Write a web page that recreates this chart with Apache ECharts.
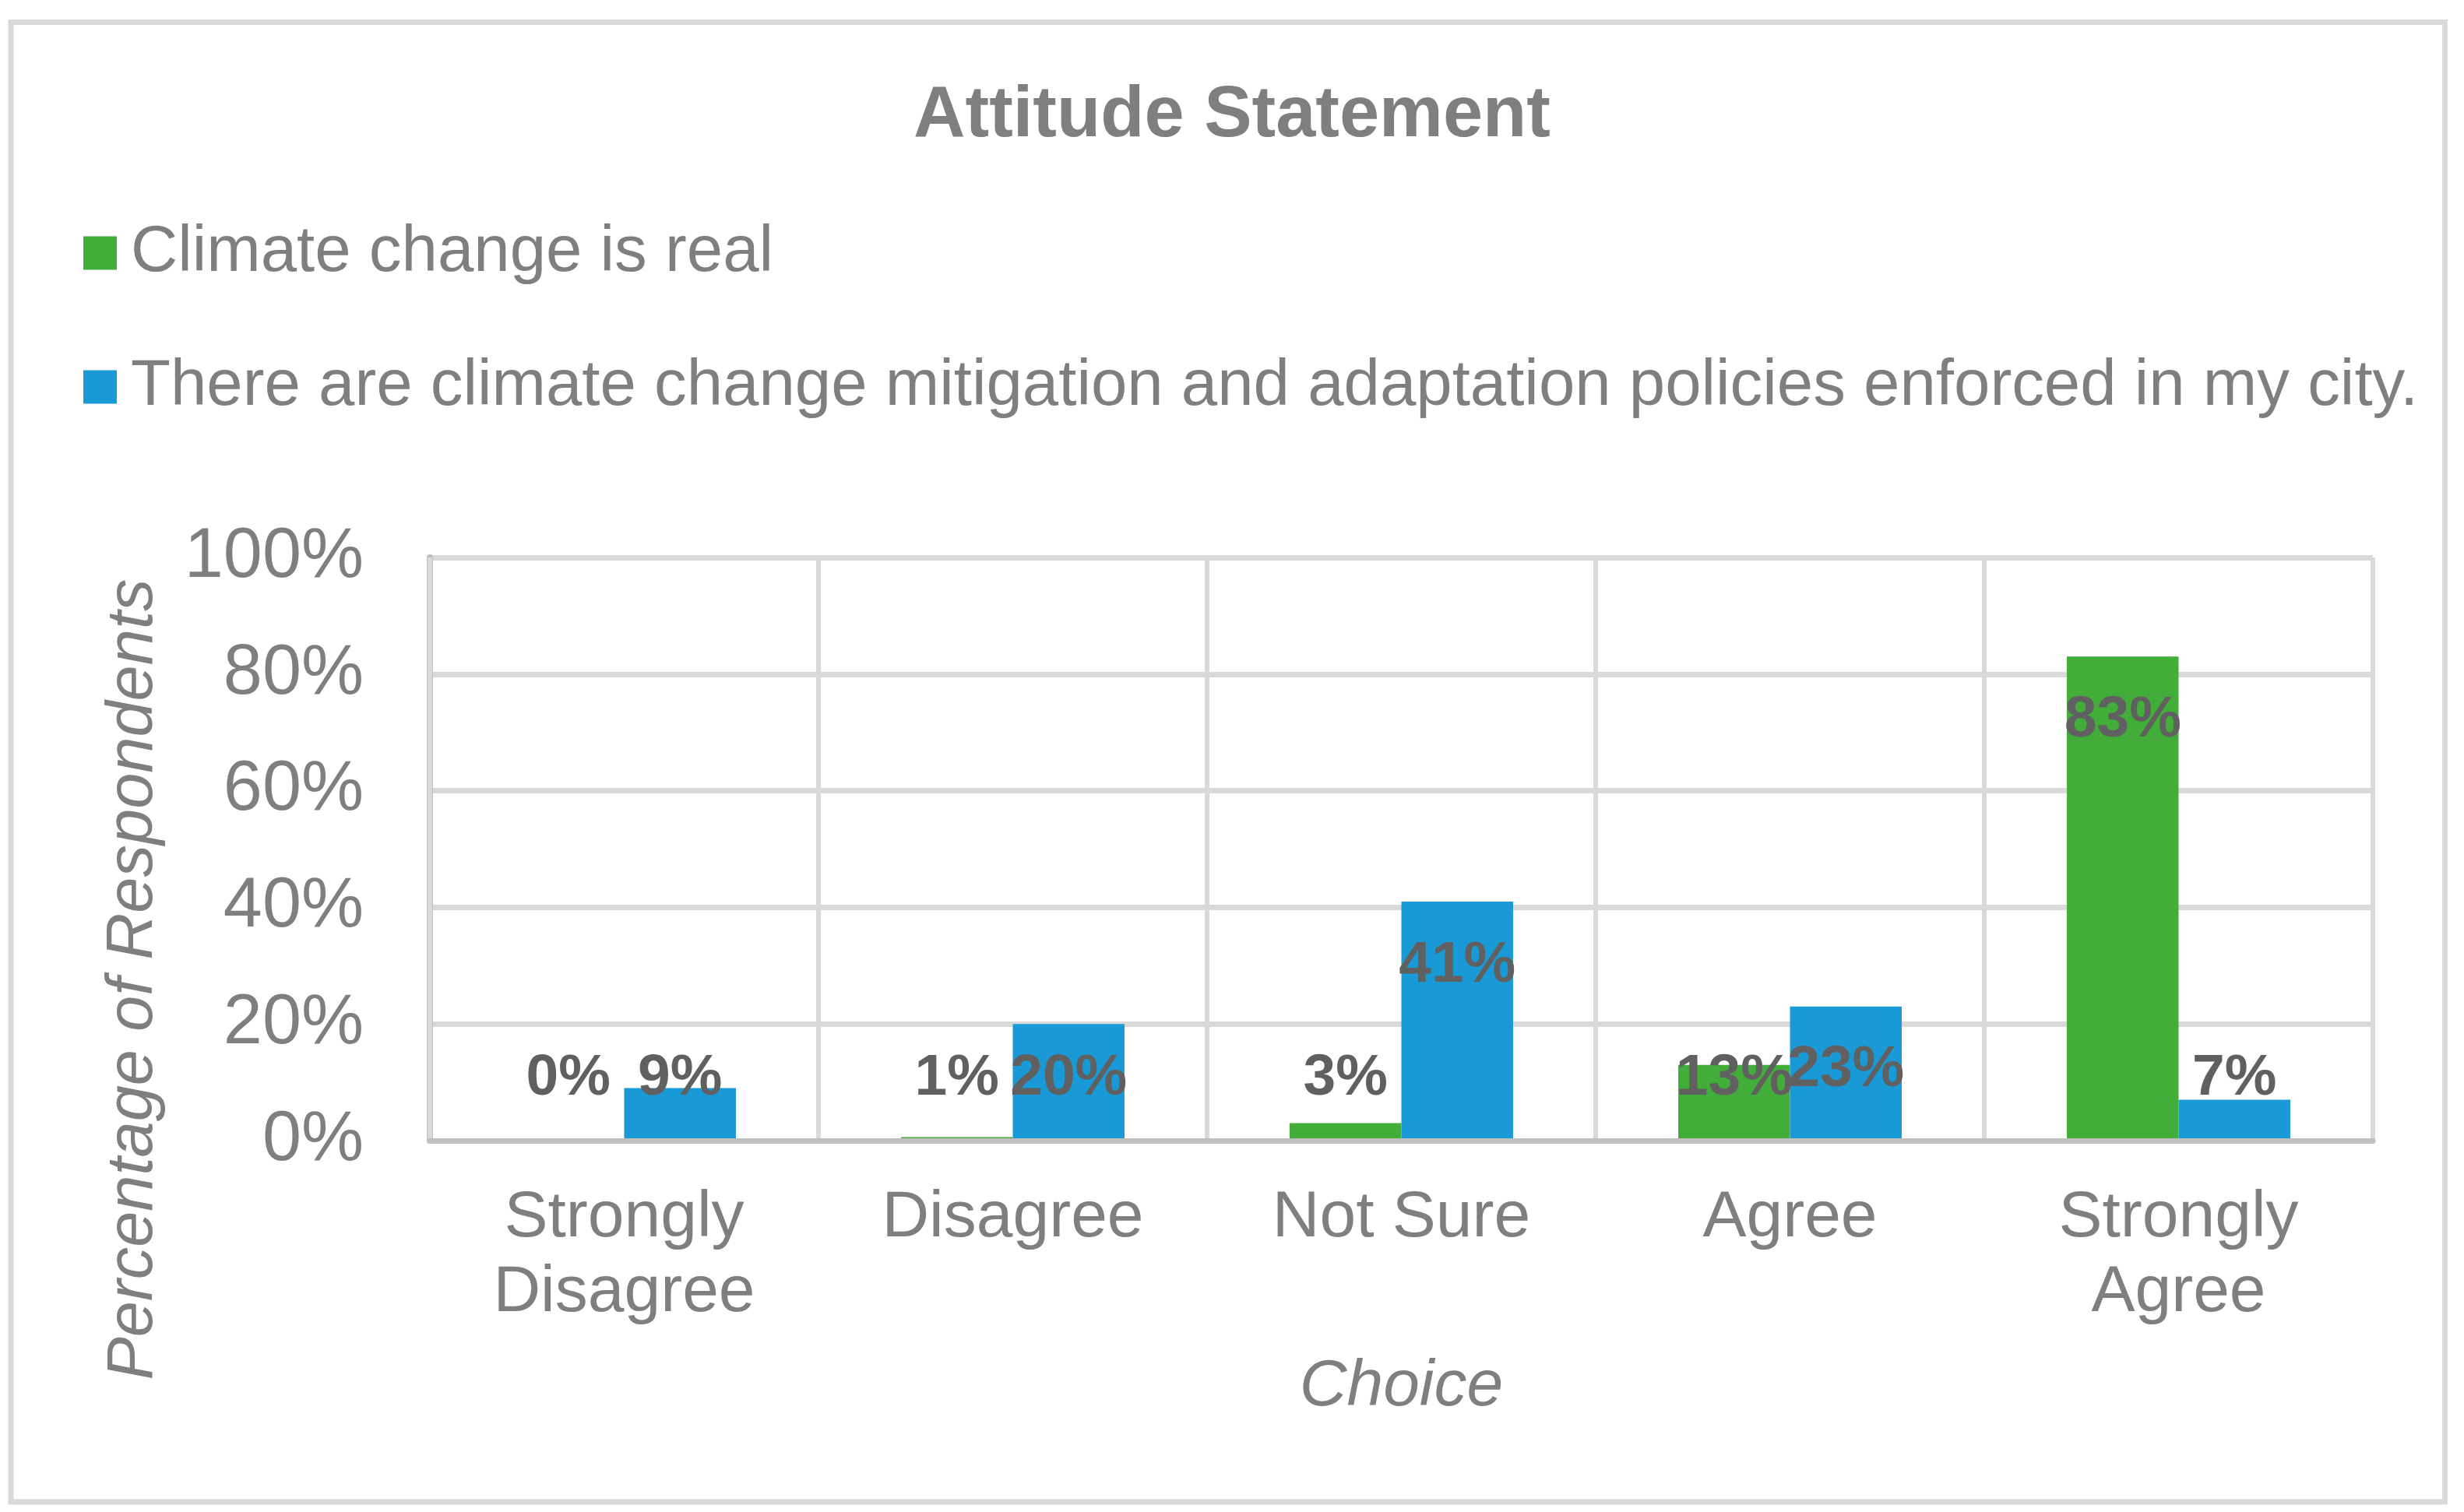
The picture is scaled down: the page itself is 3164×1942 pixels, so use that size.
<!DOCTYPE html>
<html>
<head>
<meta charset="utf-8">
<script src="https://cdn.jsdelivr.net/npm/echarts@6/dist/echarts.min.js"></script>
<style>
html, body { margin: 0; padding: 0; background: #ffffff; }
#chart { width: 3164px; height: 1942px; }
</style>
</head>
<body>
<div id="chart"></div>
<script>
// ---- data ----
const categories = ['Strongly\nDisagree', 'Disagree', 'Not Sure', 'Agree', 'Strongly\nAgree'];
const seriesNames = ['Climate change is real', 'There are climate change mitigation and adaptation policies enforced in my city.'];
const climateReal = [0, 0.6, 3, 13, 83];
const policiesEnforced = [9, 20, 41, 23, 7];
const yTicks = [0, 20, 40, 60, 80, 100];
const titleText = 'Attitude Statement';
const xName = 'Choice';
const yName = 'Percentage of Respondents';

const FONT = '"Liberation Sans", Arial, Helvetica, sans-serif';
const GREY = '#7f7f7f';
const LABEL_GREY = '#606060';
const colors = ['#43AD3A', '#199AD6'];

const chart = echarts.init(document.getElementById('chart'), null, { renderer: 'canvas' });

const labelBase = {
  show: true,
  position: 'top',
  distance: 0,
  align: 'center',
  verticalAlign: 'middle',
  fontFamily: FONT,
  fontSize: 75,
  fontWeight: 'bold',
  color: LABEL_GREY,
  formatter: p => Math.round(p.value) + '%'
};

function makeSeries(name, values, color) {
  return {
    name: name,
    type: 'bar',
    data: values,
    barGap: '0%',
    barCategoryGap: '42.5%',
    itemStyle: { color: color },
    label: labelBase,
    emphasis: { disabled: true },
    animation: false
  };
}

const option = {
  animation: false,
  backgroundColor: '#ffffff',
  textStyle: { fontFamily: FONT },
  title: {
    text: titleText,
    left: 'center',
    top: 104,
    padding: 0,
    textStyle: { fontFamily: FONT, fontSize: 92, fontWeight: 'bold', color: GREY }
  },
  legend: {
    orient: 'vertical',
    left: 107,
    top: 283,
    padding: 0,
    itemGap: 88,
    itemWidth: 43,
    itemHeight: 43,
    icon: 'rect',
    selectedMode: false,
    data: seriesNames,
    textStyle: { fontFamily: FONT, fontSize: 83.4, lineHeight: 84, color: GREY, padding: [0, 0, 0, 13] }
  },
  graphic: [{
    type: 'rect',
    shape: { x: 14, y: 28.5, width: 3125.5, height: 1900.5 },
    style: { fill: 'none', stroke: '#d9d9d9', lineWidth: 7 },
    silent: true,
    z: -1
  }],
  grid: { left: 552, right: 117, top: 716, bottom: 477, containLabel: false },
  xAxis: {
    type: 'category',
    data: categories,
    name: xName,
    nameLocation: 'middle',
    nameGap: 275,
    nameTextStyle: { fontFamily: FONT, fontSize: 84, fontStyle: 'italic', color: GREY },
    axisLine: { show: true, lineStyle: { color: '#bfbfbf', width: 7 } },
    axisTick: { show: false },
    axisLabel: { interval: 0, margin: 52, fontFamily: FONT, fontSize: 84, lineHeight: 96, color: GREY },
    splitLine: { show: true, lineStyle: { color: '#d9d9d9', width: 6 } },
    z: 3
  },
  yAxis: {
    type: 'value',
    min: yTicks[0],
    max: yTicks[yTicks.length - 1],
    interval: yTicks[1] - yTicks[0],
    name: yName,
    nameLocation: 'middle',
    nameGap: 339,
    nameTextStyle: { fontFamily: FONT, fontSize: 83, fontStyle: 'italic', color: GREY, padding: [0, 335, 0, 0] },
    axisLine: { show: true, lineStyle: { color: '#bfbfbf', width: 8 } },
    axisTick: { show: false },
    axisLabel: { margin: 85, fontFamily: FONT, fontSize: 90, color: GREY, formatter: '{value}%' },
    splitLine: { show: true, lineStyle: { color: '#d9d9d9', width: 7 } }
  },
  series: [
    makeSeries(seriesNames[0], climateReal, colors[0]),
    makeSeries(seriesNames[1], policiesEnforced, colors[1])
  ]
};

chart.setOption(option);

// Excel-style "inside end" labels: sit inside the bar near its top,
// but never lower than a floor just above the category axis.
const INSET = 82;   // px from bar top to label centre
const FLOOR = 80;   // px min distance of label centre above axis
function placeLabels(values) {
  return values.map((v, i) => {
    const top = chart.convertToPixel({ xAxisIndex: 0, yAxisIndex: 0 }, [i, v])[1];
    const base = chart.convertToPixel({ xAxisIndex: 0, yAxisIndex: 0 }, [i, 0])[1];
    const target = Math.min(top + INSET, base - FLOOR);
    return { value: v, label: { offset: [0, target - top] } };
  });
}
chart.setOption({
  series: [
    { data: placeLabels(climateReal) },
    { data: placeLabels(policiesEnforced) }
  ]
});
</script>
</body>
</html>
